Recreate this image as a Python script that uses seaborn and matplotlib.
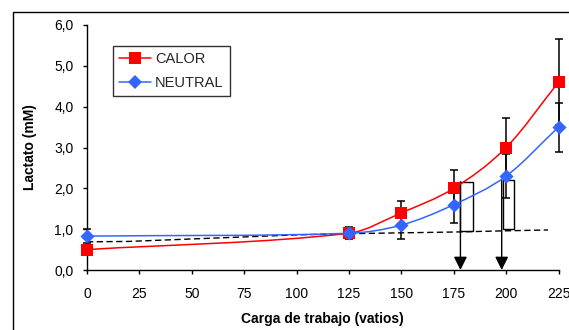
import numpy as np
import pandas as pd
import matplotlib
matplotlib.use("Agg")
import matplotlib.pyplot as plt
import seaborn as sns
from matplotlib.path import Path
from matplotlib.patches import PathPatch, Rectangle
from matplotlib.lines import Line2D
from matplotlib.ticker import FuncFormatter

# Carga de trabajo (vatios)
carga = [0, 125, 150, 175, 200, 225]
# Lactato medio (mM) y desviación
calor = [0.50, 0.90, 1.40, 2.00, 3.00, 4.60]
calor_err = [0.00, 0.10, 0.30, 0.45, 0.72, 1.05]
neutral = [0.83, 0.90, 1.10, 1.60, 2.30, 3.50]
neutral_err = [0.17, 0.15, 0.33, 0.45, 0.54, 0.60]

# Línea de referencia (discontinua)
ref_x = [0, 20, 40, 60, 80, 100, 125, 150, 175, 200, 220]
ref_y = [0.69, 0.70, 0.74, 0.78, 0.82, 0.86, 0.89, 0.91, 0.93, 0.96, 0.98]

# Umbrales: flechas y recuadros
umbral_x = [178.2, 197.9]
caja_x0 = [178.2, 198.3]
caja_x1 = [184.2, 203.9]
caja_lo = [0.96, 1.00]
caja_hi = [2.16, 2.20]

x_ticks = [0, 25, 50, 75, 100, 125, 150, 175, 200, 225]
y_ticks = [0, 1, 2, 3, 4, 5, 6]

ROJO = "#FF0000"
AZUL = "#3366FF"

sns.set_theme(style="white")
plt.rcParams["font.family"] = ["Liberation Sans", "DejaVu Sans"]

fig = plt.figure(figsize=(5.69, 3.30), dpi=100)
ax = fig.add_axes([87 / 569, 60 / 330, 471.5 / 569, 245 / 330])


def curva_suave(xs, ys):
    """Bezier path through the points with Hermite-style tangents."""
    xs = np.asarray(xs, float)
    ys = np.asarray(ys, float)
    n = len(xs)
    m = np.empty(n)
    for i in range(n):
        if i == 0:
            m[i] = (ys[1] - ys[0]) / (xs[1] - xs[0])
        elif i == n - 1:
            m[i] = (ys[-1] - ys[-2]) / (xs[-1] - xs[-2])
        else:
            m[i] = (ys[i + 1] - ys[i - 1]) / (xs[i + 1] - xs[i - 1])
    verts = [(xs[0], ys[0])]
    codes = [Path.MOVETO]
    for i in range(n - 1):
        h = xs[i + 1] - xs[i]
        verts += [(xs[i] + h / 3, ys[i] + m[i] * h / 3),
                  (xs[i + 1] - h / 3, ys[i + 1] - m[i + 1] * h / 3),
                  (xs[i + 1], ys[i + 1])]
        codes += [Path.CURVE4] * 3
    return Path(verts, codes)


# Reference dashed line
sns.lineplot(x=ref_x, y=ref_y, ax=ax, color="black", lw=1.0,
             linestyle=(0, (4.5, 2.5)), zorder=2)

# Threshold boxes and arrows
for x0, x1, lo, hi in zip(caja_x0, caja_x1, caja_lo, caja_hi):
    ax.add_patch(Rectangle((x0, lo), x1 - x0, hi - lo, fill=False,
                           edgecolor="black", lw=1.0, zorder=3))
for xa, hi in zip(umbral_x, caja_hi):
    ax.annotate("", xy=(xa, 0.0), xytext=(xa, hi),
                arrowprops=dict(arrowstyle="-|>", color="black", lw=1.0,
                                mutation_scale=20, shrinkA=0, shrinkB=0),
                zorder=3)

# Error bars
for ys, es in ((calor, calor_err), (neutral, neutral_err)):
    eb = ax.errorbar(carga, ys, yerr=es, fmt="none", ecolor="black",
                     elinewidth=1.1, capsize=3, capthick=1.1, zorder=4)
    for art in eb.lines[1] + eb.lines[2]:
        art.set_clip_on(False)

# Smoothed series lines
ax.add_patch(PathPatch(curva_suave(carga, calor), fill=False,
                       edgecolor=ROJO, lw=1.1, zorder=5, clip_on=False))
ax.add_patch(PathPatch(curva_suave(carga, neutral), fill=False,
                       edgecolor=AZUL, lw=1.1, zorder=6, clip_on=False))

# Markers
df_c = pd.DataFrame({"carga": carga, "lactato": calor})
df_n = pd.DataFrame({"carga": carga, "lactato": neutral})
sns.scatterplot(data=df_c, x="carga", y="lactato", ax=ax, marker="s",
                s=78, color=ROJO, edgecolor=ROJO, linewidth=0, zorder=7,
                legend=False, clip_on=False)
sns.scatterplot(data=df_n, x="carga", y="lactato", ax=ax, marker="D",
                s=52, color=AZUL, edgecolor=AZUL, linewidth=0, zorder=8,
                legend=False, clip_on=False)

ax.set_xlim(0, 225)
ax.set_ylim(0, 6)
ax.set_xticks(x_ticks)
ax.set_yticks(y_ticks)
ax.yaxis.set_major_formatter(FuncFormatter(lambda v, _: f"{v:.1f}".replace(".", ",")))

for side in ("top", "right"):
    ax.spines[side].set_visible(False)
for side in ("left", "bottom"):
    ax.spines[side].set_color("black")
    ax.spines[side].set_linewidth(1.0)
    ax.spines[side].set_zorder(1)
ax.tick_params(axis="both", direction="out", length=3, width=1.0,
               color="black", labelsize=10, labelcolor="black")
ax.tick_params(axis="x", pad=9.2)
ax.tick_params(axis="y", pad=6.8)
ax.tick_params(axis="both", which="both", bottom=True, left=True)
ax.grid(False)

ax.set_xlabel("Carga de trabajo (vatios)", fontsize=10, fontweight="bold",
              color="black")
ax.set_ylabel("Lactato (mM)", fontsize=10, fontweight="bold", color="black")
ax.xaxis.set_label_coords(0.5, (270 - 311.5) / 245)
ax.yaxis.set_label_coords((37 - 87) / 471.5, 0.5)

handles = [
    Line2D([], [], color=ROJO, lw=1.1, marker="s", markersize=8.8,
           markeredgewidth=0),
    Line2D([], [], color=AZUL, lw=1.1, marker="D", markersize=7.2,
           markeredgewidth=0),
]
leg = fig.legend(handles, ["CALOR", "NEUTRAL"], loc="upper left",
                 bbox_to_anchor=(113 / 569, 1 - 46 / 330), frameon=True,
                 fancybox=False, shadow=False, fontsize=10.5,
                 handlelength=2.2, handletextpad=0.27, labelspacing=0.68,
                 borderpad=0.42, borderaxespad=0)
leg.get_frame().set_edgecolor("black")
leg.get_frame().set_linewidth(1.0)

# Outer chart frame
fig.patches.append(Rectangle((13 / 569, -0.2), 2.0, (1 - 12 / 330) + 0.2,
                             transform=fig.transFigure, fill=False,
                             edgecolor="black", lw=1.0))

fig.savefig("out.png", dpi=100)
